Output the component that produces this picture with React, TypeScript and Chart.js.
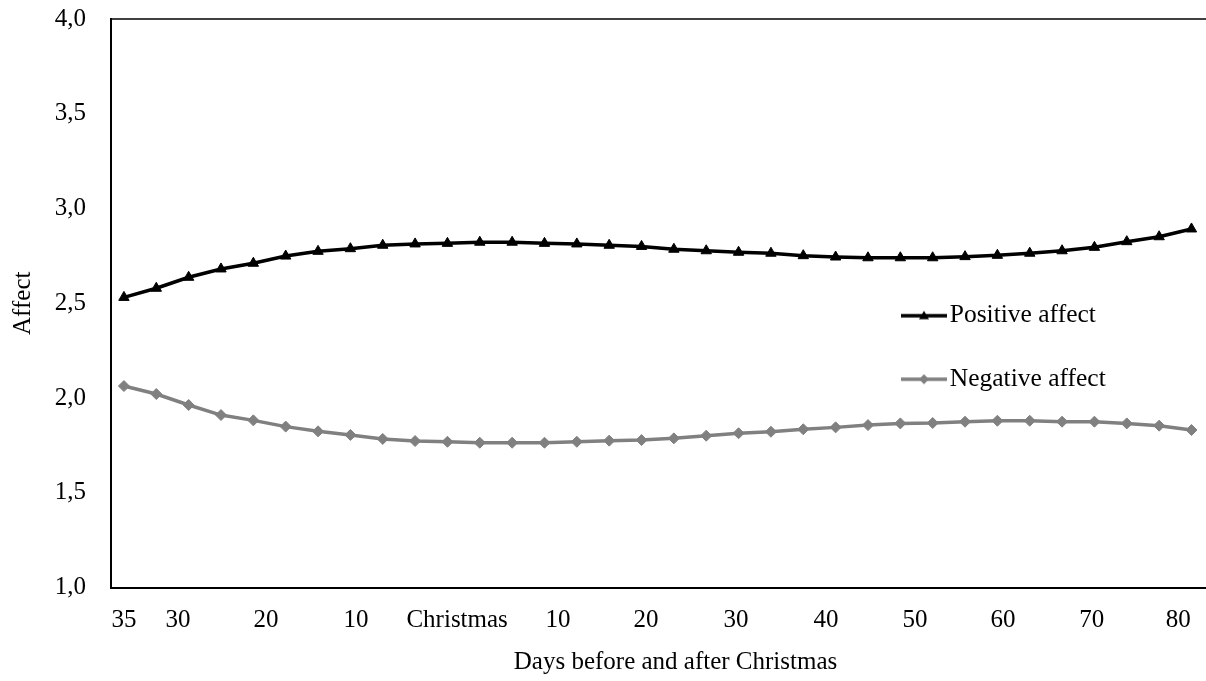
import React, { useEffect, useRef } from 'react';
import { Chart, registerables } from 'chart.js';

Chart.register(...registerables);

// One value per plotted point, left to right
const positiveAffect = [
  2.531, 2.579, 2.637, 2.681, 2.711, 2.749, 2.774, 2.788, 2.806, 2.813, 2.816, 2.822,
  2.822, 2.816, 2.813, 2.806, 2.800, 2.785, 2.777, 2.769, 2.764, 2.751, 2.744, 2.740,
  2.740, 2.740, 2.746, 2.753, 2.764, 2.777, 2.795, 2.825, 2.851, 2.892,
];
const negativeAffect = [
  2.063, 2.021, 1.963, 1.910, 1.882, 1.849, 1.824, 1.805, 1.784, 1.773, 1.769, 1.764,
  1.764, 1.764, 1.769, 1.775, 1.778, 1.787, 1.801, 1.814, 1.822, 1.835, 1.845, 1.857,
  1.866, 1.868, 1.875, 1.880, 1.880, 1.875, 1.875, 1.866, 1.854, 1.831,
];
const seriesNames = ['Positive affect', 'Negative affect'];
const xTickLabels = ['35', '30', '20', '10', 'Christmas', '10', '20', '30', '40', '50', '60', '70', '80'];
const xTickAt = [0, 1.67, 4.39, 7.17, 10.3, 13.42, 16.14, 18.92, 21.7, 24.45, 27.17, 29.92, 32.59];
const xTitle = 'Days before and after Christmas';
const yTitle = 'Affect';

const FONT = '"Liberation Serif", "Times New Roman", serif';
const BLACK = '#000000';
const GRAY = '#808080';

function makeIcon(color: string, kind: 'triangle' | 'diamond') {
  const c = document.createElement('canvas');
  c.width = 46;
  c.height = 14;
  const ctx = c.getContext('2d')!;
  ctx.strokeStyle = color;
  ctx.fillStyle = color;
  ctx.lineWidth = 3.5;
  ctx.beginPath();
  ctx.moveTo(0, 7);
  ctx.lineTo(46, 7);
  ctx.stroke();
  ctx.beginPath();
  if (kind === 'triangle') {
    ctx.moveTo(23, 2);
    ctx.lineTo(28, 10.5);
    ctx.lineTo(18, 10.5);
  } else {
    ctx.moveTo(23, 2);
    ctx.lineTo(28, 7);
    ctx.lineTo(23, 12);
    ctx.lineTo(18, 7);
  }
  ctx.closePath();
  ctx.fill();
  return c;
}

const framePlugin = {
  id: 'frameTop',
  beforeDatasetsDraw(chart: any) {
    const { ctx, chartArea: a } = chart;
    ctx.save();
    ctx.strokeStyle = BLACK;
    ctx.lineWidth = 1.5;
    ctx.beginPath();
    ctx.moveTo(a.left, a.top);
    ctx.lineTo(a.right + 2, a.top);
    ctx.stroke();
    ctx.restore();
  },
};

const legendMover = {
  id: 'legendMover',
  afterLayout(chart: any) {
    const lg = chart.legend;
    if (!lg) return;
    const w = lg.width;
    const h = lg.height;
    lg.left = 873;
    lg.top = 265;
    lg.right = lg.left + w;
    lg.bottom = lg.top + h;
  },
};

export default function App() {
  const ref = useRef<HTMLCanvasElement | null>(null);

  useEffect(() => {
    if (!ref.current) return;
    Chart.defaults.font.family = FONT;
    Chart.defaults.color = BLACK;
    const icons = [makeIcon(BLACK, 'triangle'), makeIcon(GRAY, 'diamond')];

    const chart = new Chart(ref.current, {
      type: 'line',
      data: {
        datasets: [
          {
            label: seriesNames[0],
            data: positiveAffect.map((y, i) => ({ x: i, y })),
            borderColor: BLACK,
            backgroundColor: BLACK,
            borderWidth: 3.5,
            pointStyle: 'triangle',
            pointRadius: 6,
            pointBorderWidth: 1,
            pointBackgroundColor: BLACK,
            pointBorderColor: BLACK,
            tension: 0,
          },
          {
            label: seriesNames[1],
            data: negativeAffect.map((y, i) => ({ x: i, y })),
            borderColor: GRAY,
            backgroundColor: GRAY,
            borderWidth: 3.5,
            pointStyle: 'rectRot',
            pointRadius: 5.5,
            pointBorderWidth: 1,
            pointBackgroundColor: GRAY,
            pointBorderColor: GRAY,
            tension: 0,
          },
        ],
      },
      options: {
        animation: false,
        responsive: false,
        devicePixelRatio: 1,
        layout: { padding: { top: 19, left: 0, right: 0, bottom: 0 } },
        plugins: {
          tooltip: { enabled: false },
          legend: {
            position: 'chartArea' as any,
            align: 'start',
            labels: {
              usePointStyle: true,
              pointStyleWidth: 26,
              padding: 38,
              color: BLACK,
              font: { family: FONT, size: 25.5 },
              generateLabels: (ch: any) =>
                ch.data.datasets.map((ds: any, i: number) => ({
                  text: ds.label,
                  pointStyle: icons[i],
                  fillStyle: ds.borderColor,
                  strokeStyle: ds.borderColor,
                  lineWidth: 0,
                  hidden: false,
                  datasetIndex: i,
                  fontColor: BLACK,
                })),
            },
          },
        },
        scales: {
          x: {
            type: 'linear',
            min: -0.4,
            max: 34.5,
            grid: { display: false, drawTicks: false },
            border: { display: true, color: BLACK, width: 2 },
            afterBuildTicks: (scale: any) => {
              scale.ticks = xTickAt.map((v) => ({ value: v }));
            },
            afterFit: (scale: any) => {
              scale.height = 93.5;
              scale.paddingLeft = 0;
              scale.paddingRight = 0;
            },
            ticks: {
              autoSkip: false,
              maxRotation: 0,
              padding: 18,
              color: BLACK,
              font: { family: FONT, size: 25 },
              callback: (_v: any, i: number) => xTickLabels[i],
            },
            title: {
              display: true,
              text: xTitle,
              color: BLACK,
              font: { family: FONT, size: 25 },
              padding: { top: 0, bottom: 4 },
            },
          },
          y: {
            min: 1,
            max: 4,
            grid: { display: false, drawTicks: false },
            border: { display: true, color: BLACK, width: 2 },
            afterFit: (scale: any) => {
              scale.width = 111;
              scale.paddingTop = 0;
              scale.paddingBottom = 0;
            },
            ticks: {
              stepSize: 0.5,
              padding: 25,
              color: BLACK,
              font: { family: FONT, size: 25 },
              callback: (v: any) => Number(v).toFixed(1).replace('.', ','),
            },
            title: {
              display: true,
              text: yTitle,
              color: BLACK,
              font: { family: FONT, size: 25 },
              padding: { top: 8.5, bottom: 0 },
            },
          },
        },
      },
      plugins: [framePlugin, legendMover],
    } as any);

    return () => chart.destroy();
  }, []);

  return (
    <div
      style={{
        position: 'fixed',
        left: 0,
        top: 0,
        width: 1206,
        height: 681,
        overflow: 'hidden',
        background: '#ffffff',
      }}
    >
      <canvas ref={ref} width={1247} height={681} style={{ display: 'block' }} />
    </div>
  );
}
